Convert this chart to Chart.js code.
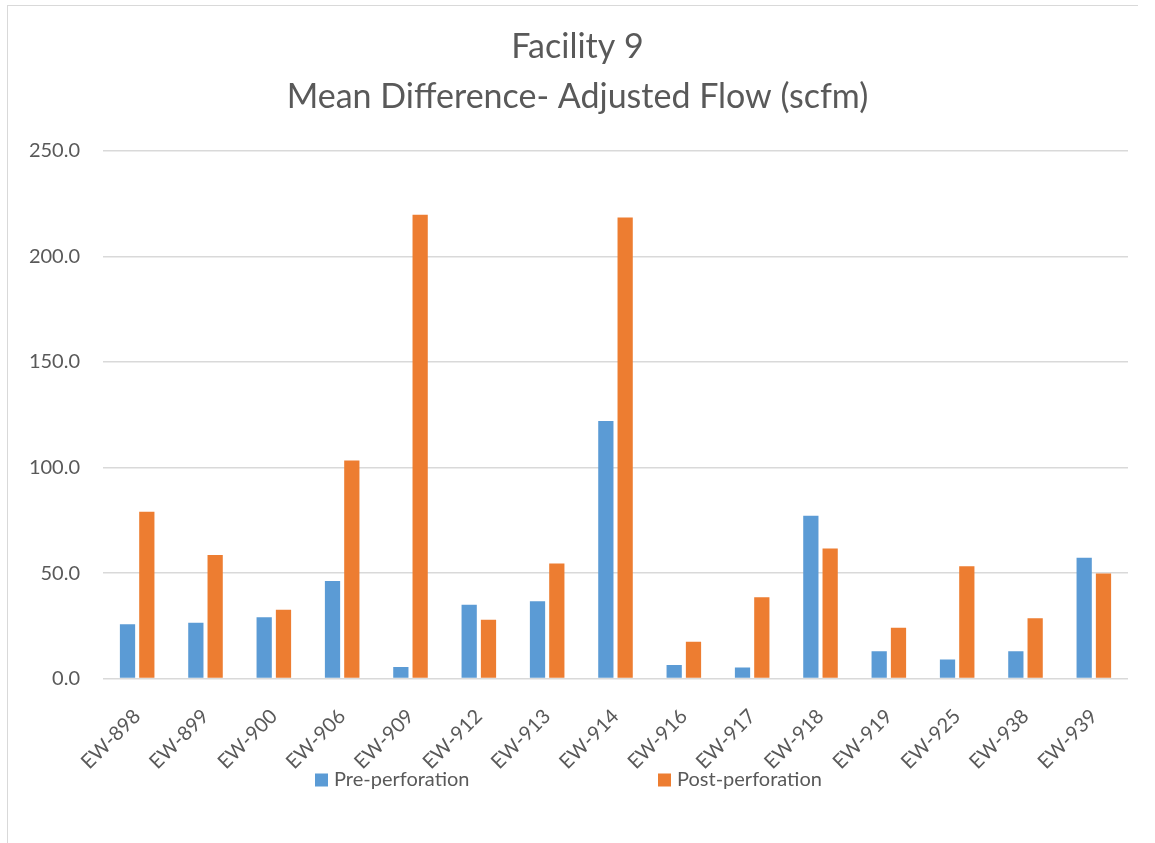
<!DOCTYPE html>
<html>
<head>
<meta charset="utf-8">
<script src="https://cdn.jsdelivr.net/npm/chart.js@4.4.1/dist/chart.umd.min.js"></script>
<style>
  html, body { margin: 0; padding: 0; background: #ffffff; }
  #wrap { position: relative; width: 1155px; height: 843px; }
  #frame { position: absolute; left: 7px; top: 5px; width: 1130px; height: 840px;
           border-top: 1.5px solid #D9D9D9; border-left: 1.5px solid #D9D9D9; pointer-events: none; }
  canvas { position: absolute; left: 0; top: 0; }
</style>
</head>
<body>
<div id="wrap">
  <canvas id="c" width="1155" height="843"></canvas>
  <div id="frame"></div>
</div>
<script>
const titleLines = ["Facility 9", "Mean Difference- Adjusted Flow (scfm)"];
const categories = ["EW-898","EW-899","EW-900","EW-906","EW-909","EW-912","EW-913","EW-914","EW-916","EW-917","EW-918","EW-919","EW-925","EW-938","EW-939"];
const seriesNames = ["Pre-perforation", "Post-perforation"];
const preValues  = [25.7, 26.5, 29.1, 46.3, 5.5, 35.0, 36.7, 122.1, 6.4, 5.3, 77.2, 12.9, 9.1, 12.9, 57.3];
const postValues = [79.1, 58.6, 32.6, 103.3, 219.8, 27.9, 54.5, 218.5, 17.5, 38.6, 61.6, 24.1, 53.2, 28.6, 49.8];
const yMin = 0, yMax = 250, yStep = 50;

const FONT = "Lato, 'Open Sans', sans-serif";
const TEXT = "#595959";

const bottomLegend = {
  id: "bottomLegend",
  afterDraw(chart) {
    const ctx = chart.ctx;
    const cx = chart.width / 2;
    const y = 780;
    const offsets = [-262.5, 80.5];
    ctx.save();
    ctx.font = "20px " + FONT;
    ctx.textBaseline = "middle";
    ctx.textAlign = "left";
    chart.data.datasets.forEach((ds, i) => {
      const bx = cx + offsets[i];
      ctx.fillStyle = ds.backgroundColor;
      ctx.fillRect(bx, y - 6.5, 13, 13);
      ctx.fillStyle = TEXT;
      ctx.fillText(ds.label, bx + 19, y);
    });
    ctx.restore();
  }
};

new Chart(document.getElementById("c"), {
  type: "bar",
  data: {
    labels: categories,
    datasets: [
      { label: seriesNames[0], data: preValues, backgroundColor: "#5B9BD5",
        barPercentage: 0.79, categoryPercentage: 0.565 },
      { label: seriesNames[1], data: postValues, backgroundColor: "#ED7D31",
        barPercentage: 0.79, categoryPercentage: 0.565 }
    ]
  },
  options: {
    responsive: false,
    animation: false,
    devicePixelRatio: 1,
    layout: { padding: { left: 27, right: 27, top: 0, bottom: 43 } },
    plugins: {
      legend: { display: false },
      tooltip: { enabled: false },
      title: {
        display: true,
        text: titleLines,
        color: TEXT,
        font: { family: FONT, size: 34, weight: "normal", lineHeight: "50px" },
        padding: { top: 22, bottom: 29 }
      }
    },
    scales: {
      x: {
        grid: { display: false, drawTicks: false },
        border: { display: false },
        ticks: { color: TEXT, font: { family: FONT, size: 20 }, minRotation: 45, maxRotation: 45, padding: 26, autoSkip: false },
        afterFit: (scale) => { scale.paddingLeft = 0; scale.paddingRight = 0; }
      },
      y: {
        min: yMin, max: yMax,
        grid: { color: "#D9D9D9", lineWidth: 1.5, drawTicks: false },
        border: { display: false },
        ticks: { stepSize: yStep, color: TEXT, font: { family: FONT, size: 20 }, padding: 23,
                 callback: v => Number(v).toFixed(1) },
        afterFit: (scale) => { scale.width = 76; }
      }
    }
  },
  plugins: [bottomLegend]
});
</script>
</body>
</html>
